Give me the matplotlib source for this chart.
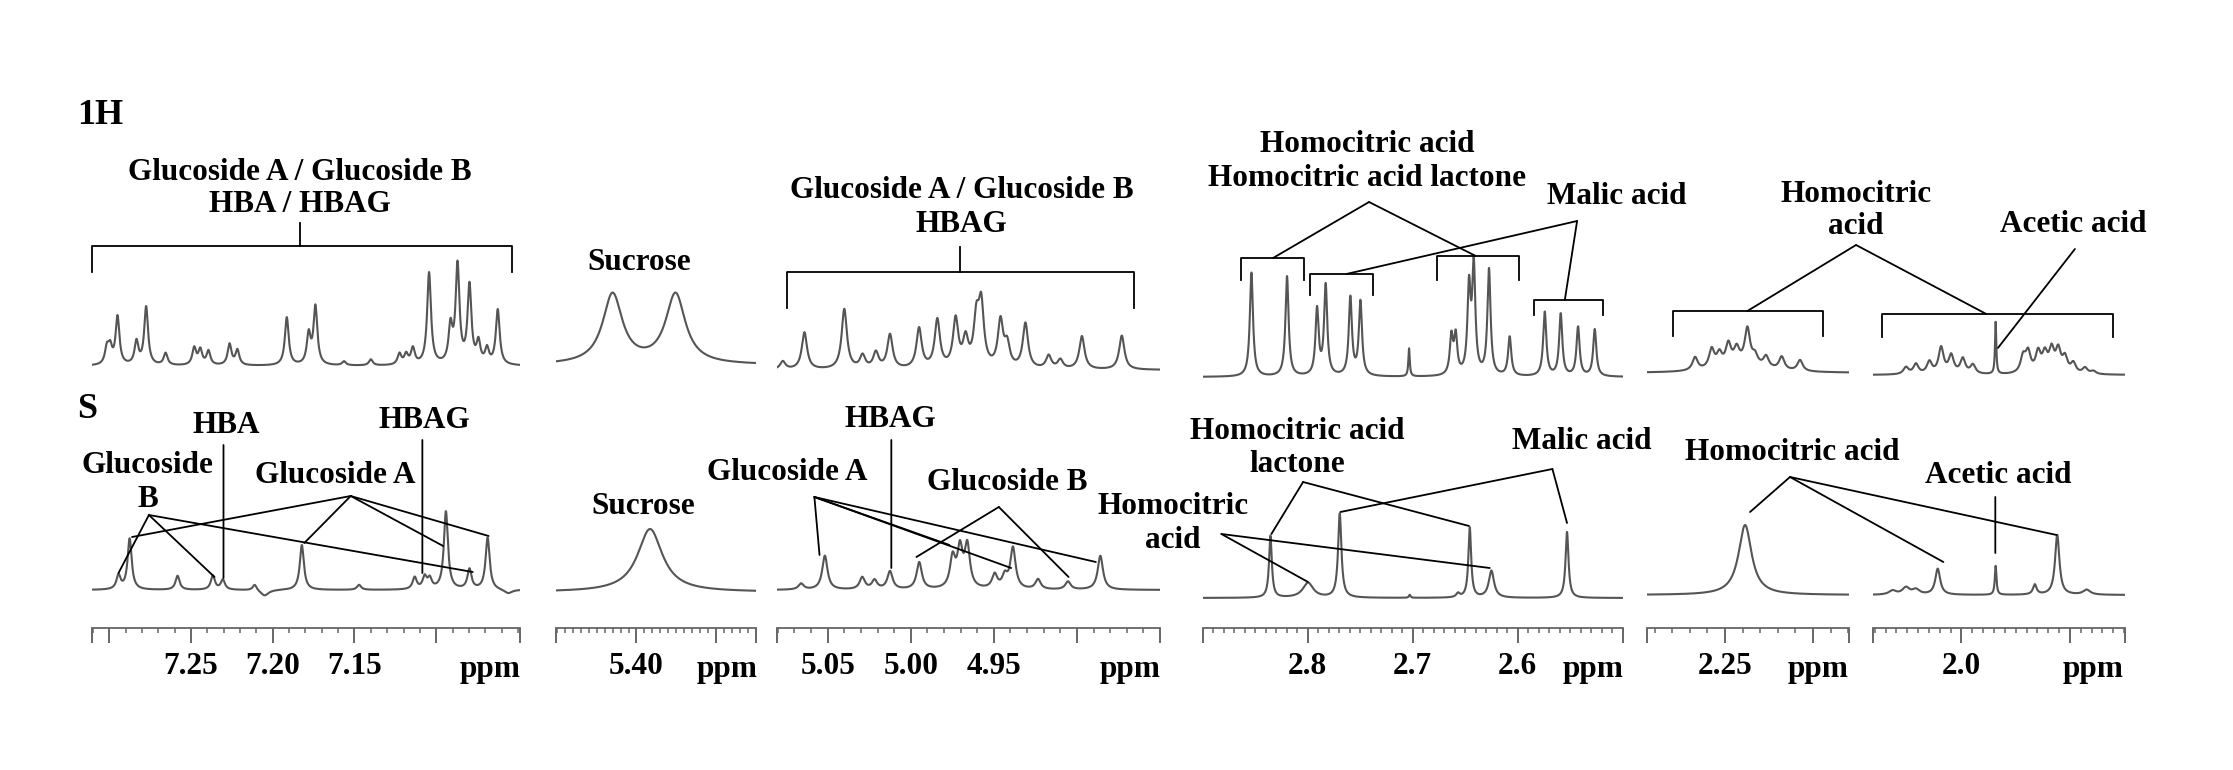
import numpy as np
import matplotlib.pyplot as plt
from matplotlib.patches import ConnectionPatch
from matplotlib.ticker import FixedLocator, MultipleLocator

plt.rcParams['font.family'] = ['Liberation Serif', 'DejaVu Serif']
plt.rcParams['font.weight'] = 'bold'

W, H = 2233, 770

# ---- spectra: peak tables (ppm, intensity[, half width]) ----
h1_aro = [(7.3014, 16), (7.2994, 16), (7.2949, 48), (7.2833, 23), (7.2774, 58),
          (7.2655, 12), (7.2480, 17), (7.2443, 15), (7.2393, 14), (7.2264, 21),
          (7.2216, 15), (7.1914, 48), (7.1780, 30), (7.1739, 58), (7.1564, 4),
          (7.1400, 6), (7.1225, 11), (7.1184, 10), (7.1143, 16), (7.1044, 92),
          (7.0913, 36), (7.0870, 98), (7.0797, 78), (7.0742, 21), (7.0690, 15),
          (7.0624, 55)]
h1_suc = [(5.4030, 70), (5.3951, 70)]
h1_ano = [(5.0770, 8), (5.0640, 37), (5.0400, 60), (5.0290, 13), (5.0210, 16),
          (5.0125, 34), (4.9950, 40), (4.9840, 48), (4.9730, 48), (4.9670, 27),
          (4.9605, 45), (4.9576, 60), (4.9460, 46), (4.9420, 22), (4.9310, 45),
          (4.9170, 13), (4.9100, 9), (4.8970, 33), (4.8730, 34)]
h1_acid = [(2.8536, 104), (2.8197, 100), (2.7911, 66), (2.7829, 90), (2.7594, 78),
           (2.7498, 74), (2.7035, 28, 0.0008), (2.6632, 38), (2.6591, 38),
           (2.6464, 85), (2.6419, 106), (2.6274, 106), (2.6077, 39), (2.5743, 64),
           (2.5591, 62), (2.5426, 49), (2.5267, 47)]
h1_hca = [(2.2670, 13), (2.2576, 19), (2.2532, 13), (2.2481, 21), (2.2434, 15),
          (2.2373, 35), (2.2330, 9), (2.2267, 11), (2.2178, 13), (2.2074, 11),
          (2.2400, 8, 0.015)]
h1_ace = [(2.0512, 7), (2.0420, 10), (2.0296, 12), (2.0188, 26), (2.0095, 18),
          (1.9988, 15), (1.9895, 9), (1.9685, 52, 0.0007), (1.9432, 16), (1.9386, 20),
          (1.9293, 20), (1.9231, 18), (1.9169, 22), (1.9108, 22), (1.9046, 15),
          (1.8969, 10), (1.8861, 6), (1.8784, 3)]

s_aro = [(7.2943, 14), (7.2875, 51), (7.2582, 14), (7.2366, 14), (7.2305, 10),
         (7.2110, 6), (7.2050, -6, 0.003), (7.1822, 45), (7.1472, 5), (7.1132, 12),
         (7.1071, 12), (7.1040, 10), (7.0941, 78), (7.0797, 20), (7.0686, 52),
         (7.0560, -4, 0.003)]
s_suc = [(5.3983, 63)]
s_ano = [(5.0660, 6), (5.0517, 34), (5.0292, 12), (5.0218, 9), (5.0125, 18),
         (4.9949, 27), (4.9748, 30), (4.9704, 38), (4.9660, 42), (4.9495, 14),
         (4.9434, 12), (4.9385, 41), (4.9234, 10), (4.9054, 8), (4.8859, 34)]
s_acid = [(2.8355, 62, 0.0016), (2.7997, 15, 0.006), (2.7695, 84, 0.0019),
          (2.7029, 3, 0.0009), (2.6569, 4, 0.002), (2.6457, 70, 0.0016),
          (2.6251, 27, 0.003), (2.5531, 66, 0.0017)]
s_hca = [(2.2386, 70, 0.0045)]
s_ace = [(2.0636, 4, 0.004), (2.0512, 7, 0.004), (2.0420, 5, 0.004), (2.0219, 26, 0.0027),
         (1.9685, 29, 0.0009), (1.9324, 10, 0.002), (1.9117, 60, 0.0024),
         (1.8845, 5, 0.004)]

h1_spectra = [h1_aro, h1_suc, h1_ano, h1_acid, h1_hca, h1_ace]
s_spectra = [s_aro, s_suc, s_ano, s_acid, s_hca, s_ace]
h1_width = [0.0014, 0.0015, 0.0019, 0.0018, 0.0018, 0.0028]
s_width = [0.0015, 0.0019, 0.0019, 0.0017, 0.0018, 0.0022]

# ppm windows and axis ticks
ppm_win = [(7.3105, 7.0488), (5.4101, 5.385), (5.0805, 4.85),
           (2.8997, 2.4998), (2.2943, 2.1796), (2.0816, 1.8492)]
major_ticks = [[7.30, 7.25, 7.20, 7.15, 7.10], [5.40, 5.39], [5.05, 5.00, 4.95, 4.90],
               [2.8, 2.7, 2.6], [2.25, 2.20], [2.0, 1.9]]
major_labels = [['', '7.25', '7.20', '7.15', ''], ['5.40', ''], ['5.05', '5.00', '4.95', ''],
                ['2.8', '2.7', '2.6'], ['2.25', ''], ['2.0', '']]
minor_step = [0.01, 0.001, 0.01, 0.01, 0.01, 0.01]
ppm_unit_at = [7.067, 5.3886, 4.8683, 2.5284, 2.197, 1.8784]

# ---- annotations ----
# brackets: (panel, left, right, bar height, leg end, stem ppm, stem top)
h1_brackets = [(0, 7.3105, 7.0538, 120, 94, 7.1834, 143),
               (2, 5.0744, 4.8659, 98, 62, 4.9702, 123),
               (3, 2.8638, 2.8038, 119, 97, None, None),
               (3, 2.7975, 2.7378, 103, 82, None, None),
               (3, 2.6769, 2.5988, 121, 97, None, None),
               (3, 2.5843, 2.5189, 77, 62, None, None),
               (4, 2.2794, 2.1945, 62, 37, None, None),
               (5, 2.0729, 1.8605, 61, 38, None, None)]
h1_labels = [(0, 7.1834, 194, 'Glucoside A / Glucoside B'), (0, 7.1834, 161, 'HBA / HBAG'),
             (1, 5.3996, 103, 'Sucrose'),
             (2, 4.9695, 180, 'Glucoside A / Glucoside B'), (2, 4.9695, 145, 'HBAG'),
             (3, 2.7434, 232, 'Homocitric acid'), (3, 2.7434, 198, 'Homocitric acid lactone'),
             (3, 2.5053, 180, 'Malic acid'),
             (4, 2.1756, 178, 'Homocitric'), (4, 2.1756, 146, 'acid'),
             (5, 1.8972, 150, 'Acetic acid')]
h1_links = [((3, 2.7416, 175), [(3, 2.833, 119), (3, 2.640, 121)]),
            ((3, 2.5435, 156), [(3, 2.7632, 103), (3, 2.5552, 77)]),
            ((4, 2.1756, 128), [(4, 2.2373, 62), (5, 1.9771, 61)]),
            ((5, 1.8954, 126), [(5, 1.9664, 27)])]

s_labels = [(0, 7.2284, 165, 'HBA'), (0, 7.1071, 170, 'HBAG'),
            (0, 7.2764, 125, 'Glucoside'), (0, 7.2764, 91, 'B'),
            (0, 7.1616, 115, 'Glucoside A'),
            (1, 5.3991, 85, 'Sucrose'),
            (2, 5.0122, 171, 'HBAG'), (2, 5.0744, 118, 'Glucoside A'),
            (2, 4.9420, 108, 'Glucoside B'),
            (3, 2.8102, 167, 'Homocitric acid'), (3, 2.8102, 134, 'lactone'),
            (3, 2.5387, 157, 'Malic acid'),
            (3, 2.9285, 91, 'Homocitric'), (3, 2.9285, 57, 'acid'),
            (4, 2.2121, 143, 'Homocitric acid'),
            (5, 1.9664, 120, 'Acetic acid')]
s_links = [((0, 7.2301, 145), [(0, 7.2301, 12)]),
           ((0, 7.1085, 150), [(0, 7.1085, 17)]),
           ((0, 7.2757, 75), [(0, 7.2943, 17), (0, 7.2356, 13), (0, 7.0777, 18)]),
           ((0, 7.1523, 94), [(0, 7.2860, 53), (0, 7.1807, 47), (0, 7.0958, 44), (0, 7.0680, 54)]),
           ((2, 5.0117, 150), [(2, 5.0117, 22)]),
           ((2, 5.0580, 93), [(2, 5.0549, 35), (2, 4.9767, 45), (2, 4.9396, 22), (2, 4.8886, 28)]),
           ((2, 4.9470, 83), [(2, 4.9966, 33), (2, 4.9050, 13)]),
           ((3, 2.8044, 116), [(3, 2.8346, 64), (3, 2.6464, 72)]),
           ((3, 2.5670, 129), [(3, 2.7689, 86), (3, 2.5531, 75)]),
           ((3, 2.8822, 64), [(3, 2.7997, 16), (3, 2.6267, 30)]),
           ((4, 2.2131, 118), [(4, 2.2358, 83), (5, 2.0167, 33), (5, 1.9123, 60)]),
           ((5, 1.9688, 98), [(5, 1.9688, 42)])]

# ---- layout (canvas pixels) ----
pan_px = [(92, 520), (556, 756), (777, 1160), (1203, 1623), (1647, 1849), (1873, 2125)]
base_h1 = [366, 365, 370, 377, 373, 375]
base_s = [590, 592, 590, 598, 595, 595]
TOP_H1, TOP_S, AXIS_S = 100, 395, 628
FS = 22.5
LINE = '#555555'


def px_axes(fig, x0, x1, y0, y1):
    ax = fig.add_axes([x0 / W, 1 - y1 / H, (x1 - x0) / W, (y1 - y0) / H])
    ax.patch.set_visible(False)
    return ax


def draw_spectrum(ax, peaks, lo, hi, w0):
    x = np.linspace(lo, hi, 5000)
    y = np.zeros_like(x)
    for pk in peaks:
        w = pk[2] if len(pk) > 2 else w0
        y += pk[1] / (1 + ((x - pk[0]) / w) ** 2)
    ax.plot(x, y, color=LINE, lw=1.5)


fig = plt.figure(figsize=(W / 100, H / 100), dpi=100)

ax_h1, ax_s = [], []
for i, (x0, x1) in enumerate(pan_px):
    lo, hi = ppm_win[i]
    a = px_axes(fig, x0, x1, TOP_H1, base_h1[i] + 15)
    a.set_xlim(lo, hi)
    a.set_ylim(-15, base_h1[i] - TOP_H1)
    a.axis('off')
    draw_spectrum(a, h1_spectra[i], lo, hi, h1_width[i])
    ax_h1.append(a)

    b = px_axes(fig, x0, x1, TOP_S, AXIS_S)
    b.set_xlim(lo, hi)
    b.set_ylim(-(AXIS_S - base_s[i]), base_s[i] - TOP_S)
    for side in ['top', 'left', 'right']:
        b.spines[side].set_visible(False)
    b.spines['bottom'].set_color('#666666')
    b.spines['bottom'].set_linewidth(1.3)
    b.set_yticks([])
    b.xaxis.set_major_locator(FixedLocator(major_ticks[i] + [lo, hi]))
    b.set_xticklabels(major_labels[i] + ['', ''])
    b.xaxis.set_minor_locator(MultipleLocator(minor_step[i]))
    b.tick_params(axis='x', which='major', length=10.5, width=1.4, color='#666666',
                  pad=6.5, labelsize=FS)
    b.tick_params(axis='x', which='minor', length=3.5, width=1.1, color='#666666')
    b.annotate('ppm', xy=(ppm_unit_at[i], 0), xycoords=('data', 'axes fraction'),
               xytext=(0, -42), textcoords='offset pixels', ha='center', va='center',
               fontsize=FS, fontweight='bold')
    draw_spectrum(b, s_spectra[i], lo, hi, s_width[i])
    ax_s.append(b)


def put_labels(axes, labels):
    for p, x, y, s in labels:
        axes[p].text(x, y, s, ha='center', va='center', fontsize=FS,
                     fontweight='bold', clip_on=False)


def put_links(axes, links):
    for (pa, xa, ya), targets in links:
        for pb, xb, yb in targets:
            con = ConnectionPatch(xyA=(xa, ya), coordsA=axes[pa].transData,
                                  xyB=(xb, yb), coordsB=axes[pb].transData,
                                  color='black', lw=1.3)
            fig.add_artist(con)


for p, x1, x2, top, leg, xs, stem in h1_brackets:
    ax_h1[p].plot([x1, x1, x2, x2], [leg, top, top, leg], color='black', lw=1.3,
                  clip_on=False)
    if xs is not None:
        ax_h1[p].plot([xs, xs], [top, stem], color='black', lw=1.3, clip_on=False)

put_labels(ax_h1, h1_labels)
put_labels(ax_s, s_labels)
put_links(ax_h1, h1_links)
put_links(ax_s, s_links)

fig.text(77 / W, 1 - 116 / H, '1H', ha='left', va='center', fontsize=26, fontweight='bold')
fig.text(77 / W, 1 - 410 / H, 'S', ha='left', va='center', fontsize=26, fontweight='bold')

fig.savefig('out.png', dpi=100)
